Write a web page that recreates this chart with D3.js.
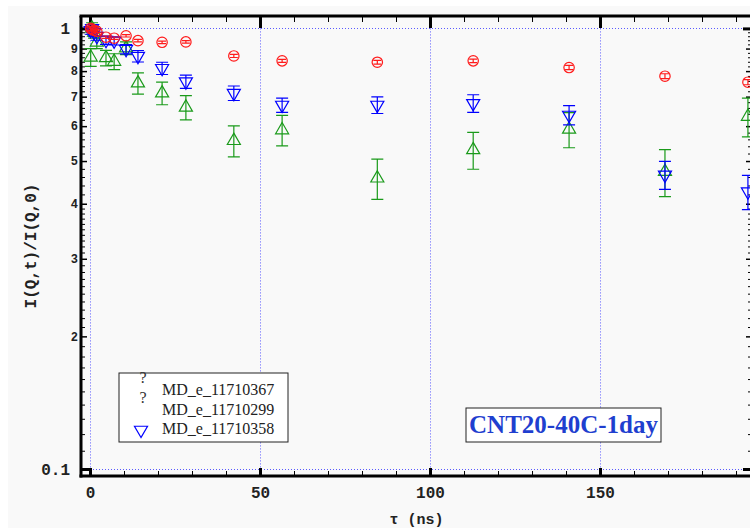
<!DOCTYPE html>
<meta charset="utf-8">
<style>
    body { margin: 0; background: #fff; }
    svg { display: block; }
    .tick text { font-family: "Liberation Mono", "Courier New", monospace; font-weight: bold; fill: #222; }
</style>
<body>
<div class="chart"></div>
<script src="https://d3js.org/d3.v7.min.js"></script>
<script>

    // Fourier times (ns), shared by the three runs
    const times = [0.2, 0.6, 1.2, 2.0, 4.7, 7.1, 10.6, 14.1, 21.2, 28.2, 42.3, 56.5, 84.5, 112.7, 140.9, 169.1, 193.5];

    // I(Q,t)/I(Q,0) and error
    const redVals   = [1.0, 0.995, 0.99, 0.985, 0.955, 0.95, 0.962, 0.938, 0.930, 0.932, 0.866, 0.844, 0.838, 0.844, 0.815, 0.779, 0.755];
    const redErr    = [0.01, 0.008, 0.008, 0.007, 0.006, 0.006, 0.006, 0.006, 0.006, 0.006, 0.007, 0.007, 0.008, 0.008, 0.009, 0.01, 0.01];
    const greenVals = [0.86, 1.0, 0.98, 0.93, 0.857, 0.841, 0.902, 0.751, 0.713, 0.662, 0.556, 0.588, 0.457, 0.530, 0.590, 0.473, 0.631];
    const greenErr  = [0.04, 0.03, 0.03, 0.03, 0.035, 0.035, 0.03, 0.042, 0.042, 0.042, 0.045, 0.047, 0.048, 0.051, 0.054, 0.058, 0.064];
    const blueVals  = [0.99, 1.0, 0.98, 0.96, 0.94, 0.937, 0.897, 0.865, 0.812, 0.757, 0.713, 0.670, 0.670, 0.676, 0.636, 0.465, 0.426];
    const blueErr   = [0.02, 0.02, 0.02, 0.02, 0.02, 0.02, 0.022, 0.026, 0.026, 0.026, 0.027, 0.025, 0.029, 0.031, 0.032, 0.034, 0.038];

    const legendNames = ["MD_e_11710367", "MD_e_11710299", "MD_e_11710358"];
    const xMajor = [0, 50, 100, 150];
    const xMinor = d3.range(10, 200, 10).filter(v => v % 50 !== 0);
    const yMajor = [0.1, 1];
    const yMid = [0.2, 0.3, 0.4, 0.5, 0.6, 0.7, 0.8, 0.9];
    const yMinor = d3.range(0.11, 0.4, 0.01).concat(d3.range(0.42, 1.0, 0.02))
        .map(v => +v.toFixed(2)).filter(v => yMid.indexOf(v) === -1);

    let width = 750, height = 528;
    let pLeft = 81, pRight = 752, pTop = 16, pBottom = 476;

    let svg = d3.select(".chart").append("svg")
        .attr("width", width).attr("height", height);

    svg.append("rect").attr("x", 8).attr("y", 6)
        .attr("width", width).attr("height", height).attr("fill", "#f9f9f9");

    let x = d3.scaleLinear().domain([-2.65, 194.7]).range([pLeft, pRight]);
    let y = d3.scaleLog().domain([0.0964, 1.067]).range([pBottom, pTop]);

    svg.append("defs").append("clipPath").attr("id", "plotclip")
        .append("rect").attr("x", pLeft).attr("y", pTop)
        .attr("width", pRight - pLeft).attr("height", pBottom - pTop);

    // dotted grid
    let grid = svg.append("g").attr("stroke", "#5a5aff").attr("stroke-dasharray", "1,2").attr("stroke-width", 1);
    grid.selectAll(".gv").data(xMajor).join("line")
        .attr("x1", d => x(d) + 0.5).attr("x2", d => x(d) + 0.5)
        .attr("y1", y(1)).attr("y2", y(0.1));
    grid.selectAll(".gh").data(yMajor).join("line")
        .attr("x1", x(0)).attr("x2", pRight)
        .attr("y1", d => Math.round(y(d)) + 0.5).attr("y2", d => Math.round(y(d)) + 0.5);

    // axes
    function styleTicks(g, w) {
        g.select(".domain").remove();
        g.selectAll(".tick line").attr("stroke", "#000").attr("stroke-width", w);
    }
    svg.append("g").attr("transform", `translate(0,${pBottom})`)
        .call(d3.axisBottom(x).tickValues(xMinor).tickSize(-5).tickFormat(""))
        .call(g => styleTicks(g, 1));
    svg.append("g").attr("transform", `translate(0,${pBottom})`)
        .call(d3.axisBottom(x).tickValues(xMajor).tickSize(-8).tickPadding(11).tickFormat(d3.format("d")))
        .call(g => styleTicks(g, 3))
        .call(g => g.selectAll("text").style("font-size", "16px"));
    svg.append("g").attr("transform", `translate(0,${pTop})`)
        .call(d3.axisTop(x).tickValues(xMinor).tickSize(-6).tickFormat(""))
        .call(g => styleTicks(g, 1));
    svg.append("g").attr("transform", `translate(0,${pTop})`)
        .call(d3.axisTop(x).tickValues(xMajor).tickSize(-12).tickFormat(""))
        .call(g => styleTicks(g, 3));

    [[d3.axisLeft, pLeft], [d3.axisRight, pRight]].forEach(([ax, pos], i) => {
        svg.append("g").attr("transform", `translate(${pos},0)`)
            .call(ax(y).tickValues(yMinor).tickSize(-4).tickFormat(""))
            .call(g => styleTicks(g, 1));
        svg.append("g").attr("transform", `translate(${pos},0)`)
            .call(ax(y).tickValues(yMid).tickSize(-6).tickPadding(3)
                .tickFormat(d => i === 0 ? String(Math.round(d * 10)) : ""))
            .call(g => styleTicks(g, 1.5))
            .call(g => g.selectAll("text").style("font-size", "12px"));
        svg.append("g").attr("transform", `translate(${pos},0)`)
            .call(ax(y).tickValues(yMajor).tickSize(-9).tickPadding(11)
                .tickFormat(d => i === 0 ? (d === 1 ? "1" : "0.1") : ""))
            .call(g => styleTicks(g, 3))
            .call(g => g.selectAll("text").style("font-size", "16px"));
    });

    // frame (right edge sits just outside the window)
    let frame = svg.append("g").attr("stroke", "#000").attr("stroke-width", 3);
    frame.append("line").attr("x1", pLeft - 1.5).attr("x2", pRight + 3).attr("y1", pTop).attr("y2", pTop);
    frame.append("line").attr("x1", pLeft - 1.5).attr("x2", pRight + 3).attr("y1", pBottom).attr("y2", pBottom);
    frame.append("line").attr("x1", pLeft).attr("x2", pLeft).attr("y1", pTop).attr("y2", pBottom + 1.5);
    frame.append("line").attr("x1", pRight + 2).attr("x2", pRight + 2).attr("y1", pTop).attr("y2", pBottom + 1.5);

    // axis titles
    svg.append("text").attr("x", (pLeft + pRight) / 2).attr("y", 524)
        .attr("text-anchor", "middle")
        .style("font-family", "'Liberation Mono', monospace").style("font-weight", "bold")
        .style("font-size", "15px").attr("fill", "#222")
        .text("τ (ns)");
    svg.append("text")
        .attr("transform", `translate(36,${(pTop + pBottom) / 2}) rotate(-90)`)
        .attr("text-anchor", "middle")
        .style("font-family", "'Liberation Mono', monospace").style("font-weight", "bold")
        .style("font-size", "16px").attr("fill", "#222")
        .text("I(Q,t)/I(Q,0)");

    // series
    let series = [
        {vals: greenVals, err: greenErr, color: "#1a9a1a", shape: "up", cap: 6},
        {vals: blueVals, err: blueErr, color: "#0000ff", shape: "down", cap: 6},
        {vals: redVals, err: redErr, color: "#ff1a1a", shape: "circle", cap: 4}
    ];
    let tri = d3.symbol().type(d3.symbolTriangle).size(74);

    let plot = svg.append("g").attr("clip-path", "url(#plotclip)");
    series.forEach(s => {
        let pts = times.map((t, i) => ({t: t, v: s.vals[i], e: s.err[i]}));
        let g = plot.append("g").attr("stroke", s.color).attr("fill", "none").attr("stroke-width", 1.2);
        g.selectAll(".eb").data(pts).join("path")
            .attr("d", d => {
                let cx = x(d.t), y1 = y(d.v + d.e), y2 = y(d.v - d.e);
                return `M${cx},${y1}V${y2}M${cx - s.cap},${y1}H${cx + s.cap}M${cx - s.cap},${y2}H${cx + s.cap}`;
            });
        if (s.shape === "circle") {
            g.selectAll(".m").data(pts).join("circle")
                .attr("cx", d => x(d.t)).attr("cy", d => y(d.v)).attr("r", 5.2);
        } else {
            g.selectAll(".m").data(pts).join("path")
                .attr("d", tri)
                .attr("transform", d => `translate(${x(d.t)},${y(d.v)})` + (s.shape === "down" ? " rotate(180)" : ""));
        }
    });

    // legend
    let leg = svg.append("g").attr("transform", "translate(119,373)");
    leg.append("rect").attr("width", 169).attr("height", 69)
        .attr("fill", "#fff").attr("stroke", "#222").attr("stroke-width", 1);
    let serif = "'Liberation Serif', 'Times New Roman', serif";
    leg.selectAll(".q").data([10, 30]).join("text")
        .attr("x", 24).attr("y", d => d)
        .attr("text-anchor", "middle")
        .style("font-family", serif).style("font-size", "16px").attr("fill", "#333")
        .text("?");
    leg.selectAll(".n").data(legendNames).join("text")
        .attr("x", 43).attr("y", (d, i) => 22 + i * 19.5)
        .style("font-family", serif).style("font-size", "16px").attr("fill", "#222")
        .text(d => d);
    leg.append("path").attr("d", tri)
        .attr("transform", "translate(22,57) rotate(180)")
        .attr("fill", "none").attr("stroke", "#0000ff").attr("stroke-width", 1.2);

    // annotation
    let ann = svg.append("g").attr("transform", "translate(466,408)");
    ann.append("rect").attr("width", 195).attr("height", 34)
        .attr("fill", "#fff").attr("stroke", "#222").attr("stroke-width", 1);
    ann.append("text").attr("x", 97.5).attr("y", 25).attr("text-anchor", "middle")
        .style("font-family", serif).style("font-weight", "bold").style("font-size", "25px")
        .attr("fill", "#1f3fcf")
        .text("CNT20-40C-1day");

</script>
